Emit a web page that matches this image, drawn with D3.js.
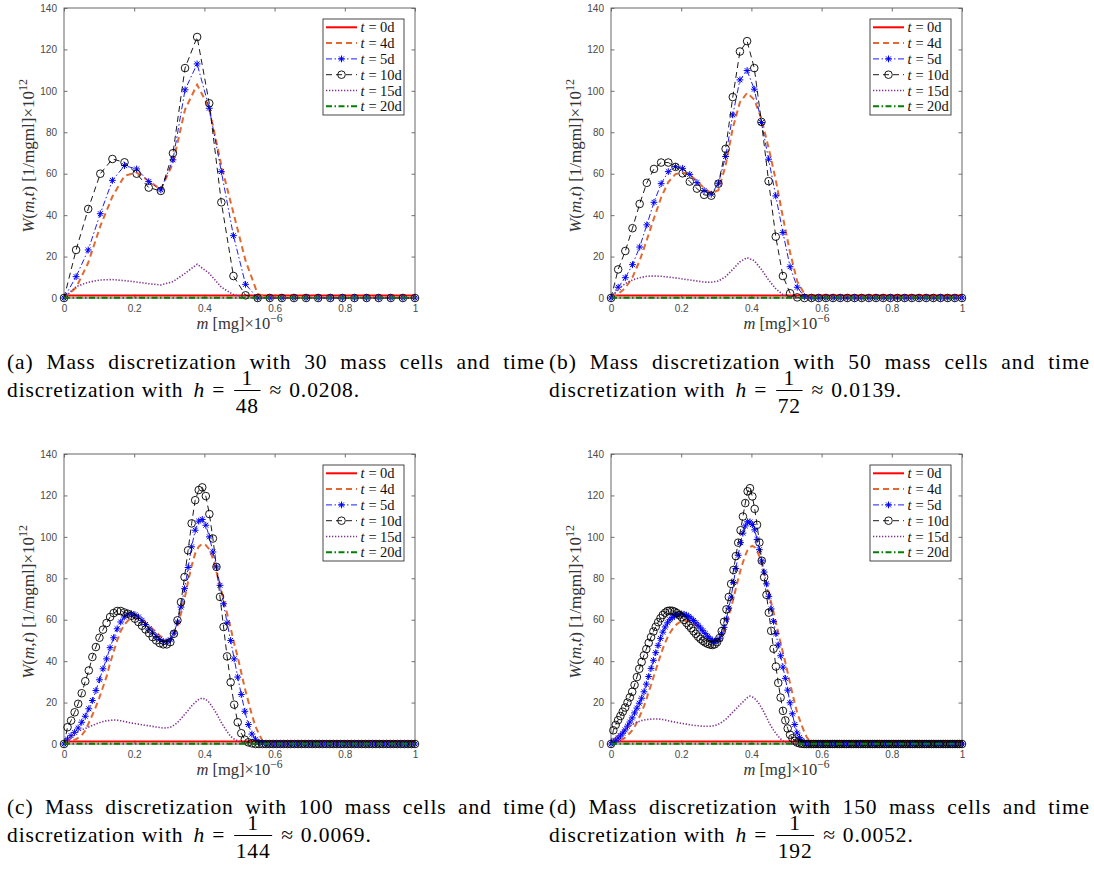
<!DOCTYPE html>
<head>
  <meta charset="utf-8">
  <script src="https://d3js.org/d3.v7.min.js"></script>
  <style>
    body { margin:0; background:#fff; }
    svg { display:block; }
  </style>
</head>

<body>
  <script>
    // tick labels and legend
    var xTicks = [0, 0.2, 0.4, 0.6, 0.8, 1];
    var yTicks = [0, 20, 40, 60, 80, 100, 120, 140];
    var legendDays = ["0d", "4d", "5d", "10d", "15d", "20d"];

    // captions
    var panelTags = ["a", "b", "c", "d"];
    var cellCounts = [30, 50, 100, 150];
    var hDenoms = ["48", "72", "144", "192"];
    var hValues = ["0.0208", "0.0139", "0.0069", "0.0052"];

    // ---- 30 mass cells ----
    var w0_30 = [1.2,1.2,1.2,1.2,1.2,1.2,1.2,1.2,1.2,1.2,
                 1.2,1.2,1.2,1.2,1.2,1.2,1.2,1.2,1.2,1.2,
                 1.2,1.2,1.2,1.2,1.2,1.2,1.2,1.2,1.2,1.2];
    var w4_30 = [0,5,17,34.7,49,59,60.5,56.5,52.4,65,
                 91,103,91.6,64,41,18,2,0,0,0,
                 0,0,0,0,0,0,0,0,0,0];
    var w5_30 = [0,10.3,23.2,40.7,56.8,63.9,62.3,56.2,52.2,66.7,
                 100.5,113,91.6,61,30.1,6.6,0,0,0,0,
                 0,0,0,0,0,0,0,0,0,0];
    var w10_30 = [0,23.2,43,60,67.1,65.5,60,53.3,51.7,69.9,
                  111,126,94,46.2,10.6,1.3,0,0,0,0,
                  0,0,0,0,0,0,0,0,0,0];
    var w15_30 = [0,5.5,7.6,8.7,8.9,8.4,7.7,6.9,6.3,7.9,
                  11.9,16.3,11.9,5.2,1.6,0.3,0,0,0,0,
                  0,0,0,0,0,0,0,0,0,0];
    var w20_30 = [0.1,0.1,0.1,0.1,0.1,0.1,0.1,0.1,0.1,0.1,
                  0.1,0.1,0.1,0.1,0.1,0.1,0.1,0.1,0.1,0.1,
                  0.1,0.1,0.1,0.1,0.1,0.1,0.1,0.1,0.1,0.1];

    // ---- 50 mass cells ----
    var w0_50 = [1.2,1.2,1.2,1.2,1.2,1.2,1.2,1.2,1.2,1.2,
                 1.2,1.2,1.2,1.2,1.2,1.2,1.2,1.2,1.2,1.2,
                 1.2,1.2,1.2,1.2,1.2,1.2,1.2,1.2,1.2,1.2,
                 1.2,1.2,1.2,1.2,1.2,1.2,1.2,1.2,1.2,1.2,
                 1.2,1.2,1.2,1.2,1.2,1.2,1.2,1.2,1.2,1.2];
    var w4_50 = [0,2,4.8,10,18,28,38.5,48.5,56,59.8,
                 60.6,59.5,56.5,53,50.6,52,64,82,94.5,99,
                 95.8,86.5,72.5,57,39,22,8,2,0.4,0,
                 0,0,0,0,0,0,0,0,0,0,
                 0,0,0,0,0,0,0,0,0,0];
    var w5_50 = [0,5.2,9.8,16.1,24.6,35.3,46.2,55.2,61,63.4,
                 62.6,59.7,55.7,51.9,50.1,55.4,68.3,88.4,105.3,109.8,
                 100.8,84.7,67,49.3,31.6,15.1,5.2,0.6,0,0,
                 0,0,0,0,0,0,0,0,0,0,
                 0,0,0,0,0,0,0,0,0,0];
    var w10_50 = [0,13.8,22.7,33.7,45.4,55.6,62.3,65.4,65.4,63.3,
                  60.2,56.2,52.8,49.8,49.4,55.2,72,97,119,124,
                  111,85,56.4,29.6,10.6,2.3,0.3,0,0,0,
                  0,0,0,0,0,0,0,0,0,0,
                  0,0,0,0,0,0,0,0,0,0];
    var w15_50 = [0,4.2,7,8.7,9.8,10.5,10.6,10.5,10.1,9.7,
                  9.2,8.7,8.2,7.7,7.6,8.2,10.3,13.8,17.5,19.5,
                  18,13.8,8.7,4.5,1.6,0.5,0,0,0,0,
                  0,0,0,0,0,0,0,0,0,0,
                  0,0,0,0,0,0,0,0,0,0];
    var w20_50 = [0.1,0.1,0.1,0.1,0.1,0.1,0.1,0.1,0.1,0.1,
                  0.1,0.1,0.1,0.1,0.1,0.1,0.1,0.1,0.1,0.1,
                  0.1,0.1,0.1,0.1,0.1,0.1,0.1,0.1,0.1,0.1,
                  0.1,0.1,0.1,0.1,0.1,0.1,0.1,0.1,0.1,0.1,
                  0.1,0.1,0.1,0.1,0.1,0.1,0.1,0.1,0.1,0.1];

    // ---- 100 mass cells ----
    var w0_100 = [1.2,1.2,1.2,1.2,1.2,1.2,1.2,1.2,1.2,1.2,
                  1.2,1.2,1.2,1.2,1.2,1.2,1.2,1.2,1.2,1.2,
                  1.2,1.2,1.2,1.2,1.2,1.2,1.2,1.2,1.2,1.2,
                  1.2,1.2,1.2,1.2,1.2,1.2,1.2,1.2,1.2,1.2,
                  1.2,1.2,1.2,1.2,1.2,1.2,1.2,1.2,1.2,1.2,
                  1.2,1.2,1.2,1.2,1.2,1.2,1.2,1.2,1.2,1.2,
                  1.2,1.2,1.2,1.2,1.2,1.2,1.2,1.2,1.2,1.2,
                  1.2,1.2,1.2,1.2,1.2,1.2,1.2,1.2,1.2,1.2,
                  1.2,1.2,1.2,1.2,1.2,1.2,1.2,1.2,1.2,1.2,
                  1.2,1.2,1.2,1.2,1.2,1.2,1.2,1.2,1.2,1.2];
    var w4_100 = [0,0.5,1.2,2,3,4.2,6.5,10.2,14,18,
                  22.5,27.5,32.5,39,44.5,50,54.5,57.5,59.5,60.6,
                  60.8,60.5,59.8,58.5,57.3,55.5,54,52.3,51,50.2,
                  50.6,52.5,57,63,70,78.5,86,92,95.3,96.6,
                  96,94,89.5,83,76.5,70,63,56,48.5,42,
                  34.5,27,20.5,14,8.5,4.8,1.5,0.3,0,0,
                  0,0,0,0,0,0,0,0,0,0,
                  0,0,0,0,0,0,0,0,0,0,
                  0,0,0,0,0,0,0,0,0,0,
                  0,0,0,0,0,0,0,0,0,0];
    var w5_100 = [0,2.4,4,5.6,7.7,10.5,13.4,17,21,25.8,
                  31,36.3,41.1,46.5,51.3,55.6,58.9,61.3,62.6,62.9,
                  62.4,61.3,59.7,57.7,55.6,53.7,51.9,50.5,49.5,49.2,
                  50.3,53.5,58.9,66.1,75,85.2,95.2,103.2,107.6,108.4,
                  105.6,100,92.7,85.5,76.6,67.7,58.5,50,41.1,32.3,
                  23.9,15.8,9.4,4.8,2.3,0.8,0.3,0,0,0,
                  0,0,0,0,0,0,0,0,0,0,
                  0,0,0,0,0,0,0,0,0,0,
                  0,0,0,0,0,0,0,0,0,0,
                  0,0,0,0,0,0,0,0,0,0];
    var w10_100 = [0,8.1,11.3,15.3,19.4,24.5,30.3,35.5,42,46.8,
                   51.3,55.2,58.4,61.3,63.2,64.2,64.2,63.5,62.9,61.9,
                   60.5,58.9,57.1,55.3,53.5,51.6,50,48.7,48.1,48.1,
                   49.2,53.2,59.7,68.5,80.6,93.5,106.5,117.7,122.6,123.9,
                   119.7,111,99.2,85.5,71,56.5,42.3,29.8,19,10.5,
                   5.2,2.1,0.8,0.3,0,0,0,0,0,0,
                   0,0,0,0,0,0,0,0,0,0,
                   0,0,0,0,0,0,0,0,0,0,
                   0,0,0,0,0,0,0,0,0,0,
                   0,0,0,0,0,0,0,0,0,0];
    var w15_100 = [0,1.8,3.6,5.1,6,6.9,7.5,8.2,8.9,9.7,
                   10.3,10.8,11.2,11.4,11.6,11.5,11.2,10.9,10.5,10.1,
                   9.9,9.6,9.3,9,8.8,8.5,8.2,8,7.7,7.8,
                   8.1,9.1,10.3,12.2,14.2,16.2,18.4,20.1,21.5,22.2,
                   21.5,20,17.5,14.8,11.5,8.6,6,3.7,2.4,1.5,
                   0.8,0.3,0,0,0,0,0,0,0,0,
                   0,0,0,0,0,0,0,0,0,0,
                   0,0,0,0,0,0,0,0,0,0,
                   0,0,0,0,0,0,0,0,0,0,
                   0,0,0,0,0,0,0,0,0,0];
    var w20_100 = [0.1,0.1,0.1,0.1,0.1,0.1,0.1,0.1,0.1,0.1,
                   0.1,0.1,0.1,0.1,0.1,0.1,0.1,0.1,0.1,0.1,
                   0.1,0.1,0.1,0.1,0.1,0.1,0.1,0.1,0.1,0.1,
                   0.1,0.1,0.1,0.1,0.1,0.1,0.1,0.1,0.1,0.1,
                   0.1,0.1,0.1,0.1,0.1,0.1,0.1,0.1,0.1,0.1,
                   0.1,0.1,0.1,0.1,0.1,0.1,0.1,0.1,0.1,0.1,
                   0.1,0.1,0.1,0.1,0.1,0.1,0.1,0.1,0.1,0.1,
                   0.1,0.1,0.1,0.1,0.1,0.1,0.1,0.1,0.1,0.1,
                   0.1,0.1,0.1,0.1,0.1,0.1,0.1,0.1,0.1,0.1,
                   0.1,0.1,0.1,0.1,0.1,0.1,0.1,0.1,0.1,0.1];

    // ---- 150 mass cells ----
    var w0_150 = [1.2,1.2,1.2,1.2,1.2,1.2,1.2,1.2,1.2,1.2,
                  1.2,1.2,1.2,1.2,1.2,1.2,1.2,1.2,1.2,1.2,
                  1.2,1.2,1.2,1.2,1.2,1.2,1.2,1.2,1.2,1.2,
                  1.2,1.2,1.2,1.2,1.2,1.2,1.2,1.2,1.2,1.2,
                  1.2,1.2,1.2,1.2,1.2,1.2,1.2,1.2,1.2,1.2,
                  1.2,1.2,1.2,1.2,1.2,1.2,1.2,1.2,1.2,1.2,
                  1.2,1.2,1.2,1.2,1.2,1.2,1.2,1.2,1.2,1.2,
                  1.2,1.2,1.2,1.2,1.2,1.2,1.2,1.2,1.2,1.2,
                  1.2,1.2,1.2,1.2,1.2,1.2,1.2,1.2,1.2,1.2,
                  1.2,1.2,1.2,1.2,1.2,1.2,1.2,1.2,1.2,1.2,
                  1.2,1.2,1.2,1.2,1.2,1.2,1.2,1.2,1.2,1.2,
                  1.2,1.2,1.2,1.2,1.2,1.2,1.2,1.2,1.2,1.2,
                  1.2,1.2,1.2,1.2,1.2,1.2,1.2,1.2,1.2,1.2,
                  1.2,1.2,1.2,1.2,1.2,1.2,1.2,1.2,1.2,1.2,
                  1.2,1.2,1.2,1.2,1.2,1.2,1.2,1.2,1.2,1.2];
    var w4_150 = [0,0.3,0.7,1.2,1.7,2.4,3.1,4.1,5.3,6.6,
                  8.2,10.4,12.9,15.5,18.3,21.4,25.2,28.5,32.1,35.6,
                  39.3,42.7,46,48.9,51.5,53.6,55.3,56.8,57.9,58.7,
                  59.2,59.4,59.5,59.4,58.9,58.4,57.4,56.4,55.4,54.2,
                  53.1,52,51.1,50.3,50.1,50.1,50.8,52.5,54.6,58,
                  61.9,66,70.4,75.1,79.6,84,87.7,91,93.7,95.1,
                  95.6,95,93.2,90.6,87.2,82.7,77.9,73,68.2,63.6,
                  58.7,53.6,48.7,44.1,39.4,34.5,29.4,24.4,19.7,15.3,
                  12,8.9,6,3.5,1.9,0.8,0.2,0,0,0,
                  0,0,0,0,0,0,0,0,0,0,
                  0,0,0,0,0,0,0,0,0,0,
                  0,0,0,0,0,0,0,0,0,0,
                  0,0,0,0,0,0,0,0,0,0,
                  0,0,0,0,0,0,0,0,0,0,
                  0,0,0,0,0,0,0,0,0,0];
    var w5_150 = [0,0.9,1.8,2.8,3.9,5.2,6.8,8.6,10.6,12.6,
                  15,17.3,19.7,22.1,25.2,28.9,32.6,36.5,40.4,44.1,
                  47.6,51,54,56.5,58.5,60,61.1,61.9,62.3,62.6,
                  62.8,62.6,62.2,61.6,60.7,59.6,58.5,57.3,56,54.7,
                  53.3,52,50.9,50,49.6,49.8,50.8,53.2,56.3,60.3,
                  65.6,70.9,78,84.7,91.1,97.2,101.8,105.3,107.3,107.2,
                  105.9,103.4,98.7,93.8,88.4,83,77.3,71.3,65.2,59.2,
                  53.3,47.8,42.6,37.1,31.7,26,19.9,14.6,9.4,5.3,
                  3.2,1.7,0.7,0.3,0.1,0,0,0,0,0,
                  0,0,0,0,0,0,0,0,0,0,
                  0,0,0,0,0,0,0,0,0,0,
                  0,0,0,0,0,0,0,0,0,0,
                  0,0,0,0,0,0,0,0,0,0,
                  0,0,0,0,0,0,0,0,0,0,
                  0,0,0,0,0,0,0,0,0,0];
    var w10_150 = [0,6.6,9.2,11.5,13.5,15.6,17.6,20,22.5,25.2,
                   28.5,32.3,36.3,39.6,42.8,45.8,48.8,51.6,54.3,56.6,
                   58.8,60.7,62.3,63.4,64.2,64.4,64.3,63.9,63.2,62.3,
                   61.2,59.9,58.5,57.2,55.9,54.5,53.2,51.8,50.7,49.8,
                   49,48.4,48,47.8,48.1,49.1,51.1,54.5,59,65,
                   71,77.3,84,90.7,97.2,103.2,109.8,116.3,122,123.5,
                   119.5,113.5,105.8,97.3,88.5,80.5,72,63.4,54.6,46,
                   37.4,29.5,22.4,16,11.4,7.5,4.5,2.8,1.5,0.7,
                   0.3,0.1,0,0,0,0,0,0,0,0,
                   0,0,0,0,0,0,0,0,0,0,
                   0,0,0,0,0,0,0,0,0,0,
                   0,0,0,0,0,0,0,0,0,0,
                   0,0,0,0,0,0,0,0,0,0,
                   0,0,0,0,0,0,0,0,0,0,
                   0,0,0,0,0,0,0,0,0,0];
    var w15_150 = [0,1.7,3.2,4.4,5.5,6.5,7.2,7.9,8.6,9.3,
                   10,10.5,10.9,11.3,11.6,11.8,11.9,12,12.1,12.1,
                   12.1,12,11.8,11.6,11.3,11,10.8,10.6,10.4,10.2,
                   10,9.8,9.6,9.4,9.2,9,8.9,8.8,8.7,8.6,
                   8.6,8.6,8.6,8.7,8.9,9.2,9.8,10.5,11.3,12.2,
                   13.4,14.6,15.7,16.9,18.1,19.2,20.3,21.4,22.5,23.1,
                   22.7,22,20.7,19.2,17.3,15.2,13,10.6,8.5,6.7,
                   5.1,3.7,2.5,1.5,0.9,0.6,0.3,0.1,0,0,
                   0,0,0,0,0,0,0,0,0,0,
                   0,0,0,0,0,0,0,0,0,0,
                   0,0,0,0,0,0,0,0,0,0,
                   0,0,0,0,0,0,0,0,0,0,
                   0,0,0,0,0,0,0,0,0,0,
                   0,0,0,0,0,0,0,0,0,0,
                   0,0,0,0,0,0,0,0,0,0];
    var w20_150 = [0.1,0.1,0.1,0.1,0.1,0.1,0.1,0.1,0.1,0.1,
                   0.1,0.1,0.1,0.1,0.1,0.1,0.1,0.1,0.1,0.1,
                   0.1,0.1,0.1,0.1,0.1,0.1,0.1,0.1,0.1,0.1,
                   0.1,0.1,0.1,0.1,0.1,0.1,0.1,0.1,0.1,0.1,
                   0.1,0.1,0.1,0.1,0.1,0.1,0.1,0.1,0.1,0.1,
                   0.1,0.1,0.1,0.1,0.1,0.1,0.1,0.1,0.1,0.1,
                   0.1,0.1,0.1,0.1,0.1,0.1,0.1,0.1,0.1,0.1,
                   0.1,0.1,0.1,0.1,0.1,0.1,0.1,0.1,0.1,0.1,
                   0.1,0.1,0.1,0.1,0.1,0.1,0.1,0.1,0.1,0.1,
                   0.1,0.1,0.1,0.1,0.1,0.1,0.1,0.1,0.1,0.1,
                   0.1,0.1,0.1,0.1,0.1,0.1,0.1,0.1,0.1,0.1,
                   0.1,0.1,0.1,0.1,0.1,0.1,0.1,0.1,0.1,0.1,
                   0.1,0.1,0.1,0.1,0.1,0.1,0.1,0.1,0.1,0.1,
                   0.1,0.1,0.1,0.1,0.1,0.1,0.1,0.1,0.1,0.1,
                   0.1,0.1,0.1,0.1,0.1,0.1,0.1,0.1,0.1,0.1];

    var panelSeries = [
      [w0_30, w4_30, w5_30, w10_30, w15_30, w20_30],
      [w0_50, w4_50, w5_50, w10_50, w15_50, w20_50],
      [w0_100, w4_100, w5_100, w10_100, w15_100, w20_100],
      [w0_150, w4_150, w5_150, w10_150, w15_150, w20_150]
    ];

    // line styles in the order t = 0,4,5,10,15,20 d
    var styles = [
      {color: '#ff0000', width: 2,   dash: null},
      {color: '#e2692f', width: 2,   dash: '6,4'},
      {color: '#0000ff', width: 0.9, dash: '6,2.5,1.5,2.5', marker: 'star'},
      {color: '#000000', width: 0.9, dash: '6,4', marker: 'circle'},
      {color: '#7e2f8e', width: 1.6, dash: '1.3,1.7'},
      {color: '#008000', width: 2,   dash: '6,2.5,1.5,2.5'}
    ];

    var width = 1094, height = 874;
    var plotW = 351, plotH = 290;
    var origins = [[64, 8], [611, 8], [64, 454], [611, 454]];
    var capOrigins = [[7, 369, 545], [549, 369, 1090], [7, 814, 545], [549, 814, 1090]];

    var serif = "'Liberation Serif', 'Times New Roman', serif";
    var sans = "'Liberation Sans', Arial, Helvetica, sans-serif";

    var svg = d3.select('body')
      .append('svg')
      .attr('width', width)
      .attr('height', height);

    var starPath = function(s) {
      var k = s * 0.72;
      return 'M' + (-s) + ',0L' + s + ',0M0,' + (-s) + 'L0,' + s +
             'M' + (-k) + ',' + (-k) + 'L' + k + ',' + k +
             'M' + (-k) + ',' + k + 'L' + k + ',' + (-k);
    };

    // text made of plain / italic / superscript pieces
    function richText(sel, parts, size) {
      parts.forEach(function(p) {
        var t = sel.append('tspan').text(p.t);
        if (p.i) t.attr('font-style', 'italic');
        if (p.sup) t.attr('font-size', size * 0.7).attr('dy', -size * 0.42);
      });
    }

    function drawMarker(g, type, cx, cy, color) {
      if (type === 'star') {
        g.append('path')
          .attr('transform', 'translate(' + cx + ',' + cy + ')')
          .attr('d', starPath(3.4))
          .attr('fill', 'none')
          .attr('stroke', color)
          .attr('stroke-width', 1);
      } else {
        g.append('circle')
          .attr('cx', cx).attr('cy', cy).attr('r', 3.8)
          .attr('fill', 'none')
          .attr('stroke', color)
          .attr('stroke-width', 0.9);
      }
    }

    origins.forEach(function(o, k) {
      var left = o[0], top = o[1];
      var n = cellCounts[k];
      var grid = d3.range(n).map(function(i) { return i / (n - 1); });

      var x = d3.scaleLinear().domain([0, 1]).range([left, left + plotW]);
      var y = d3.scaleLinear().domain([0, 140]).range([top + plotH, top]);

      var g = svg.append('g');

      // axes: ticks inside on all four sides
      var axes = g.append('g').attr('class', 'axes');
      axes.append('g')
        .attr('transform', 'translate(0,' + (top + plotH) + ')')
        .call(d3.axisBottom(x).tickValues(xTicks).tickSize(-3.5).tickPadding(7).tickFormat(d3.format('~g')));
      axes.append('g')
        .attr('transform', 'translate(0,' + top + ')')
        .call(d3.axisTop(x).tickValues(xTicks).tickSize(-3.5).tickFormat(''));
      axes.append('g')
        .attr('transform', 'translate(' + left + ',0)')
        .call(d3.axisLeft(y).tickValues(yTicks).tickSize(-3.5).tickPadding(7).tickFormat(d3.format('~g')));
      axes.append('g')
        .attr('transform', 'translate(' + (left + plotW) + ',0)')
        .call(d3.axisRight(y).tickValues(yTicks).tickSize(-3.5).tickFormat(''));
      axes.selectAll('.domain').remove();
      axes.selectAll('.tick line').attr('stroke', '#333').attr('stroke-width', 0.7);
      axes.selectAll('.tick text')
        .attr('fill', '#4a4a4a')
        .style('font-family', sans)
        .style('font-size', '10px');

      g.append('rect')
        .attr('x', left).attr('y', top)
        .attr('width', plotW).attr('height', plotH)
        .attr('fill', 'none')
        .attr('stroke', '#666')
        .attr('stroke-width', 1);

      // series
      var series = panelSeries[k];
      series.forEach(function(vals, s) {
        var st = styles[s];
        var line = d3.line()
          .x(function(d, i) { return x(grid[i]); })
          .y(function(d) { return y(d); });
        g.append('path')
          .datum(vals)
          .attr('d', line)
          .attr('fill', 'none')
          .attr('stroke', st.color)
          .attr('stroke-width', st.width)
          .attr('stroke-dasharray', st.dash);
        if (st.marker) {
          var mg = g.append('g');
          vals.forEach(function(v, i) {
            drawMarker(mg, st.marker, x(grid[i]), y(v), st.color);
          });
        }
      });

      // axis titles
      var ylab = g.append('text')
        .attr('transform', 'translate(' + (left - 30) + ',' + (top + plotH / 2 + 3) + ') rotate(-90)')
        .attr('text-anchor', 'middle')
        .attr('fill', '#333')
        .style('font-family', serif)
        .style('font-size', '17px');
      richText(ylab, [{t: 'W', i: 1}, {t: '('}, {t: 'm', i: 1}, {t: ','}, {t: 't', i: 1},
                      {t: ') [1/mgml]\u00d710'}, {t: '12', sup: 1}], 17);

      var xlab = g.append('text')
        .attr('x', left + plotW / 2)
        .attr('y', top + plotH + 31)
        .attr('text-anchor', 'middle')
        .attr('fill', '#333')
        .style('font-family', serif)
        .style('font-size', '16.5px');
      richText(xlab, [{t: 'm', i: 1}, {t: ' [mg]\u00d710'}, {t: '\u22126', sup: 1}], 16.5);

      // legend
      var lx = left + plotW - 11 - 81, ly = top + 11;
      var leg = g.append('g');
      leg.append('rect')
        .attr('x', lx).attr('y', ly).attr('width', 81).attr('height', 96)
        .attr('fill', '#fff').attr('stroke', '#333').attr('stroke-width', 0.9);
      legendDays.forEach(function(lbl, s) {
        var cy = ly + 8.3 + s * 15.8;
        var st = styles[s];
        leg.append('line')
          .attr('x1', lx + 3).attr('x2', lx + 34)
          .attr('y1', cy).attr('y2', cy)
          .attr('stroke', st.color)
          .attr('stroke-width', st.width)
          .attr('stroke-dasharray', st.dash);
        if (st.marker) drawMarker(leg, st.marker, lx + 18.5, cy, st.color);
        var tx = lx + 37.5;
        var tg = leg.append('g').style('font-family', serif).style('font-size', '14.5px').attr('fill', '#111');
        tg.append('text').attr('x', tx).attr('y', cy + 5).attr('font-style', 'italic').text('t');
        tg.append('text').attr('x', tx + 8).attr('y', cy + 5).text('=');
        tg.append('text').attr('x', tx + 19.5).attr('y', cy + 5).text(lbl);
      });

      // caption
      var c = capOrigins[k];
      var cap = svg.append('g')
        .style('font-family', serif)
        .style('font-size', '21.5px')
        .style('letter-spacing', '0.9px')
        .attr('fill', '#000');
      var words = ['(' + panelTags[k] + ')', 'Mass', 'discretization', 'with', String(n),
                   'mass', 'cells', 'and', 'time'];
      var nodes = words.map(function(w) { return cap.append('text').attr('y', c[1]).text(w); });
      var widths = nodes.map(function(t) { return t.node().getComputedTextLength(); });
      var gap = (c[2] - c[0] - d3.sum(widths)) / (words.length - 1);
      var cx = c[0];
      nodes.forEach(function(t, i) { t.attr('x', cx); cx += widths[i] + gap; });

      var b2 = c[1] + 28;
      var p1 = cap.append('text').attr('x', c[0]).attr('y', b2).text('discretization with');
      cx = c[0] + p1.node().getComputedTextLength() + 10;
      var hh = cap.append('text').attr('x', cx).attr('y', b2).attr('font-style', 'italic').text('h');
      cx += hh.node().getComputedTextLength() + 7;
      var eq = cap.append('text').attr('x', cx).attr('y', b2).text('=');
      cx += eq.node().getComputedTextLength() + 9;
      var den = cap.append('text').attr('y', b2 + 16).attr('text-anchor', 'middle').text(hDenoms[k]);
      var bw = den.node().getComputedTextLength() + 3;
      den.attr('x', cx + bw / 2);
      cap.append('text').attr('x', cx + bw / 2).attr('y', b2 - 12).attr('text-anchor', 'middle').text('1');
      cap.append('line')
        .attr('x1', cx).attr('x2', cx + bw)
        .attr('y1', b2 - 6.5).attr('y2', b2 - 6.5)
        .attr('stroke', '#000').attr('stroke-width', 1);
      cx += bw + 9;
      var ap = cap.append('text').attr('x', cx).attr('y', b2).text('\u2248');
      cx += ap.node().getComputedTextLength() + 7;
      cap.append('text').attr('x', cx).attr('y', b2).text(hValues[k] + '.');
    });
  </script>
</body>
